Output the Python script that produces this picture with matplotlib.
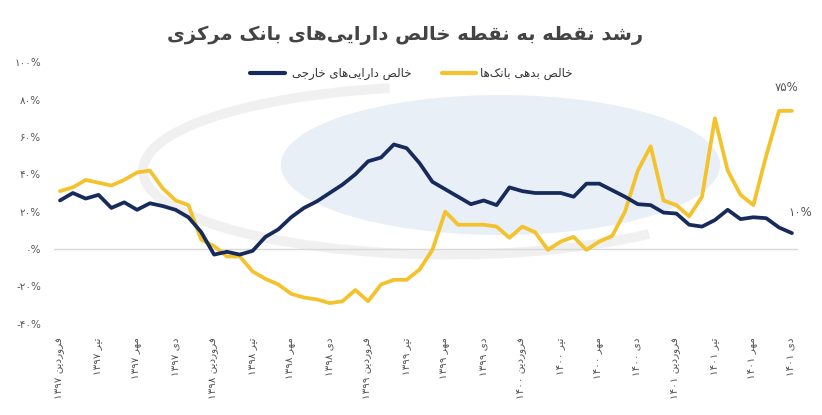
import re
import matplotlib
matplotlib.use("Agg")
import matplotlib.pyplot as plt
from matplotlib.lines import Line2D
from matplotlib.patches import Ellipse, Arc

# values (percent), monthly from Farvardin 1397 to Dey 1401
foreign_assets = [26, 30, 27, 29, 22, 25, 21, 24.5, 23, 21, 17, 9,
                  -3, -1.5, -3, -1, 6.5, 10.5, 17, 22, 25.5, 30, 34.5, 40,
                  47, 49, 56, 54, 46, 36, 32, 28, 24, 26, 23.5, 33,
                  31, 30, 30, 30, 28, 35, 35, 31.5, 28, 24, 23.5, 19.5,
                  19, 13, 12, 15.5, 21, 16, 17, 16.5, 11.5, 8.5]
bank_debt = [31, 33, 37, 35.5, 34, 37, 41, 42, 32.5, 26, 23.5, 5,
             1.5, -4, -4, -12, -16, -19, -24, -26, -27, -29, -28, -22,
             -28, -19, -16.5, -16.5, -11, -0.5, 20, 13, 13, 13, 12, 6,
             12, 9, -0.5, 4, 6.5, -0.5, 4, 7, 20, 42, 55, 26,
             23.5, 17.5, 28, 70, 42, 29, 23.5, 50, 74, 74]
month_names = ["فروردین", "تیر", "مهر", "دی"]
years = ["1397", "1398", "1399", "1400", "1401"]
y_ticks = [-40, -20, 0, 20, 40, 60, 80, 100]

title = "رشد نقطه به نقطه خالص دارایی\u200cهای بانک مرکزی"
label_assets = "خالص دارایی\u200cهای خارجی"
label_debt = "خالص بدهی بانک\u200cها"

NAVY = "#172a5c"
YELLOW = "#f3c22c"
GRAY = "#555555"

# --- minimal Persian shaping (presentation forms) + visual reordering ---
FORMS = {
    'ا': ('\uFE8D', '\uFE8E', None, None),
    'ب': ('\uFE8F', '\uFE90', '\uFE91', '\uFE92'),
    'ت': ('\uFE95', '\uFE96', '\uFE97', '\uFE98'),
    'ج': ('\uFE9D', '\uFE9E', '\uFE9F', '\uFEA0'),
    'خ': ('\uFEA5', '\uFEA6', '\uFEA7', '\uFEA8'),
    'د': ('\uFEA9', '\uFEAA', None, None),
    'ر': ('\uFEAD', '\uFEAE', None, None),
    'ز': ('\uFEAF', '\uFEB0', None, None),
    'ش': ('\uFEB5', '\uFEB6', '\uFEB7', '\uFEB8'),
    'ص': ('\uFEB9', '\uFEBA', '\uFEBB', '\uFEBC'),
    'ط': ('\uFEC1', '\uFEC2', '\uFEC3', '\uFEC4'),
    'ف': ('\uFED1', '\uFED2', '\uFED3', '\uFED4'),
    'ق': ('\uFED5', '\uFED6', '\uFED7', '\uFED8'),
    'ل': ('\uFEDD', '\uFEDE', '\uFEDF', '\uFEE0'),
    'م': ('\uFEE1', '\uFEE2', '\uFEE3', '\uFEE4'),
    'ن': ('\uFEE5', '\uFEE6', '\uFEE7', '\uFEE8'),
    'ه': ('\uFEE9', '\uFEEA', '\uFEEB', '\uFEEC'),
    'و': ('\uFEED', '\uFEEE', None, None),
    'ی': ('\uFBFC', '\uFBFD', '\uFBFE', '\uFBFF'),
    'ک': ('\uFB8E', '\uFB8F', '\uFB90', '\uFB91'),
}


def dual(c):
    return c in FORMS and FORMS[c][2] is not None


def shape(text):
    out = []
    for i, c in enumerate(text):
        if c not in FORMS:
            out.append(c)
            continue
        prev = text[i - 1] if i > 0 else None
        nxt = text[i + 1] if i + 1 < len(text) else None
        jp = dual(prev)
        jn = dual(c) and nxt in FORMS
        iso, fin, ini, med = FORMS[c]
        out.append(med if jp and jn else fin if jp else ini if jn else iso)
    return ''.join(out).replace('\u200c', '')


def fa_digits(s):
    return s.translate(str.maketrans("0123456789", "۰۱۲۳۴۵۶۷۸۹"))


def rtl(text):
    s = shape(fa_digits(text))
    tokens = re.findall(r'[۰-۹%\-]+|[^۰-۹%\-]+', s)
    return ''.join(t if re.match(r'[۰-۹%\-]', t) else t[::-1]
                   for t in reversed(tokens))


plt.rcParams['font.family'] = ['DejaVu Sans']

fig = plt.figure(figsize=(8.22, 4.15), dpi=100)
ax = fig.add_axes([0.0652, 0.1976, 0.906, 0.6747])

x = list(range(len(foreign_assets)))

# faint watermark
ax.add_patch(Ellipse((0.60, 0.60), 0.59, 0.50, transform=ax.transAxes,
                     facecolor="#e8eff7", edgecolor="none", zorder=0))
ax.add_patch(Arc((0.53, 0.58), 0.82, 0.60, theta1=105, theta2=320,
                 transform=ax.transAxes, color="#f0f0f0", lw=7, zorder=0))

ax.axhline(0, color="#d9d9d9", lw=1, zorder=1)
ax.plot(x, bank_debt, color=YELLOW, lw=2.7, solid_joinstyle='round',
        solid_capstyle='round', zorder=3)
ax.plot(x, foreign_assets, color=NAVY, lw=2.7, solid_joinstyle='round',
        solid_capstyle='round', zorder=4)

ax.set_xlim(-0.5, 57.5)
ax.set_ylim(-45, 105)

xt = list(range(0, len(x), 3))
xl = [rtl(m + " " + y) for y in years for m in month_names][:len(xt)]
ax.set_xticks(xt)
ax.set_xticklabels(xl, rotation=90, va='top', ha='center', fontsize=7.5,
                   color=GRAY)
ax.set_yticks(y_ticks)
ax.set_yticklabels([fa_digits(str(v)) + "%" for v in y_ticks], fontsize=7.5,
                   color=GRAY)
ax.tick_params(length=0, pad=3)
ax.tick_params(axis='y', pad=9)
for s in ax.spines.values():
    s.set_visible(False)

# end labels
ax.annotate(fa_digits("75") + "%", (x[-1], bank_debt[-1]), xytext=(-4, 14),
            textcoords='offset points', fontsize=8.5, color=GRAY, ha='center')
ax.annotate(fa_digits("10") + "%", (x[-1], foreign_assets[-1]),
            xytext=(6, 12), textcoords='offset points', fontsize=8.5,
            color=GRAY, ha='center')

fig.text(0.493, 0.915, rtl(title), ha='center', va='center', fontsize=14,
         fontweight='bold', color="#444444")

# legend
ly = 1 - 73 / 415
fig.add_artist(Line2D([250 / 822, 285 / 822], [ly, ly], color=NAVY, lw=3,
                      solid_capstyle='round'))
fig.text(292 / 822, ly, rtl(label_assets), ha='left', va='center',
         fontsize=8.5, color="#333333")
fig.add_artist(Line2D([442 / 822, 476 / 822], [ly, ly], color=YELLOW, lw=3,
                      solid_capstyle='round'))
fig.text(480 / 822, ly, rtl(label_debt), ha='left', va='center',
         fontsize=8.5, color="#333333")

fig.savefig("out.png", dpi=100)
